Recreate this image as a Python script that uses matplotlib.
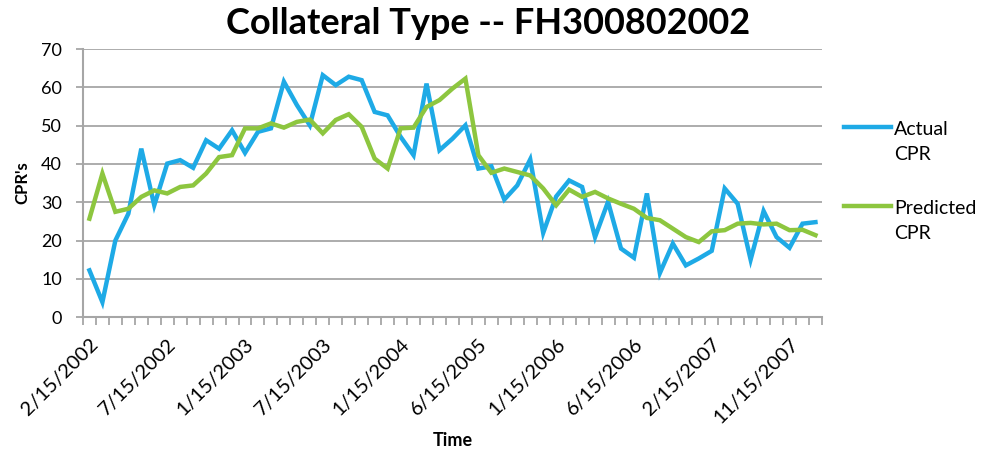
import numpy as np
from matplotlib import pyplot as plt
from matplotlib.legend_handler import HandlerLine2D

# monthly CPR values
actual = [12.2, 3.9, 20.0, 27.0, 44.0, 29.2, 40.1, 41.0, 39.0, 46.2,
          44.0, 48.8, 42.9, 48.4, 49.3, 61.5, 55.4, 50.1, 63.2, 60.6,
          62.8, 61.9, 53.6, 52.7, 47.1, 42.3, 61.0, 43.6, 46.6, 50.1,
          38.8, 39.4, 30.7, 34.4, 41.2, 22.0, 31.5, 35.7, 34.0, 20.9,
          30.1, 17.9, 15.5, 32.3, 11.5, 19.2, 13.5, 15.3, 17.3, 33.6,
          29.6, 15.0, 27.7, 20.9, 18.1, 24.4, 24.8]
predicted = [25.7, 37.5, 27.5, 28.3, 31.4, 33.1, 32.3, 34.0, 34.4, 37.5,
             41.8, 42.3, 49.3, 49.3, 50.6, 49.5, 51.0, 51.6, 48.0, 51.5,
             53.0, 49.7, 41.4, 38.8, 49.3, 49.5, 54.9, 56.7, 59.7, 62.3,
             42.3, 37.7, 38.8, 37.9, 37.0, 33.6, 29.2, 33.3, 31.4, 32.7,
             31.0, 29.6, 28.3, 25.9, 25.3, 23.1, 20.9, 19.6, 22.4, 22.7,
             24.4, 24.6, 24.2, 24.4, 22.7, 22.8, 21.4]
tick_labels = ["2/15/2002", "7/15/2002", "1/15/2003", "7/15/2003",
               "1/15/2004", "6/15/2005", "1/15/2006", "6/15/2006",
               "2/15/2007", "11/15/2007"]
label_step = 6


class TopLine(HandlerLine2D):
    # put the legend line next to the first line of a two-line label
    def create_artists(self, legend, orig_handle, xdescent, ydescent,
                       width, height, fontsize, trans):
        return super().create_artists(legend, orig_handle, xdescent,
                                      ydescent - 1.6 * fontsize, width,
                                      height, fontsize, trans)


plt.rcParams["font.family"] = ["Lato", "DejaVu Sans"]

x = np.arange(len(actual))

fig = plt.figure(figsize=(9.84, 4.51), dpi=100)
ax = fig.add_axes([0.0843, 0.297, 0.751, 0.594])

ax.plot(x, actual, color="#1EAAE6", linewidth=3.2, label="Actual\nCPR",
        solid_joinstyle="miter")
ax.plot(x, predicted, color="#8DC63F", linewidth=3.2, label="Predicted\nCPR",
        solid_joinstyle="miter")

ax.set_xlim(-0.5, len(actual) - 0.5)
ax.set_ylim(0, 70)
ax.set_yticks(np.arange(0, 71, 10))
ax.yaxis.grid(True, color="#A6A6A6", linewidth=1.3)
ax.set_axisbelow(True)

ax.set_xticks(x[::label_step])
ax.set_xticklabels(tick_labels, rotation=45, ha="right",
                   rotation_mode="anchor", fontsize=14.5)
ax.set_xticks(np.arange(-0.5, len(actual), 1), minor=True)
ax.tick_params(axis="x", which="major", length=0, pad=13)
ax.tick_params(axis="x", which="minor", length=6, color="#A6A6A6",
               width=1.3)
ax.tick_params(axis="y", length=5, color="#A6A6A6", width=1.3,
               labelsize=13, pad=10)

for side in ["top", "right"]:
    ax.spines[side].set_visible(False)
for side in ["left", "bottom"]:
    ax.spines[side].set_color("#A6A6A6")
    ax.spines[side].set_linewidth(1.5)

ax.set_ylabel("CPR's", fontsize=12, fontweight="bold", labelpad=8)
ax.set_xlabel("Time", fontsize=13, fontweight="bold", labelpad=4)
fig.suptitle("Collateral Type -- FH300802002", x=0.496, y=0.985,
             fontsize=26, fontweight="bold")

leg = ax.legend(loc="upper left", bbox_to_anchor=(1.02, 0.762),
                frameon=False, fontsize=14, handlelength=2.4,
                handletextpad=0.15, labelspacing=1.9, borderaxespad=0,
                handler_map={plt.Line2D: TopLine()})
for t in leg.get_texts():
    t.set_linespacing(1.6)

fig.savefig("out.png", dpi=100)
